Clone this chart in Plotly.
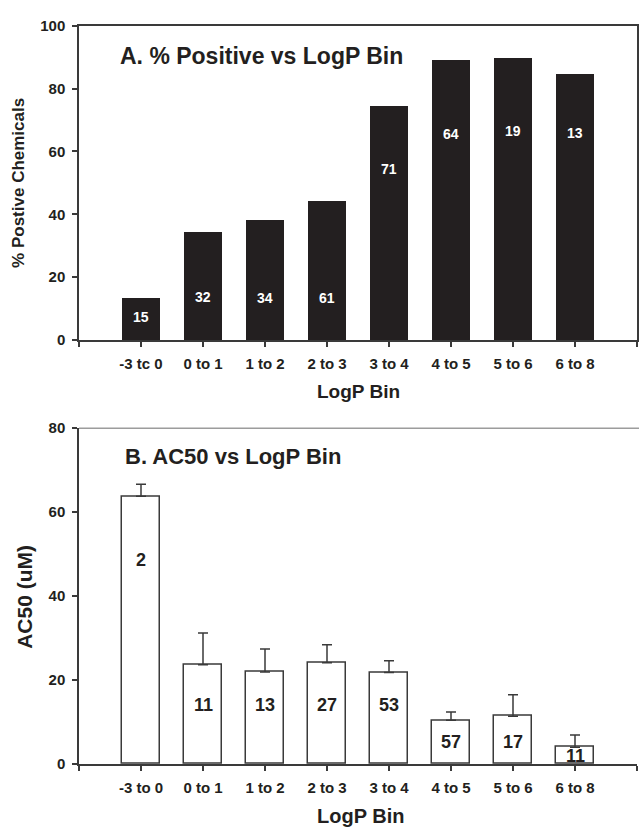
import plotly.graph_objects as go

# ---- data ----
bins_a = ["-3 tc 0", "0 to 1", "1 to 2", "2 to 3", "3 to 4", "4 to 5", "5 to 6", "6 to 8"]
bins_b = ["-3 to 0", "0 to 1", "1 to 2", "2 to 3", "3 to 4", "4 to 5", "5 to 6", "6 to 8"]
pct_positive = [13.4, 34.5, 38.3, 44.4, 74.7, 89.2, 89.7, 84.7]
counts_a = ["15", "32", "34", "61", "71", "64", "19", "13"]
ac50_mean = [63.7, 23.6, 21.9, 24.1, 21.8, 10.4, 11.4, 4.0]
ac50_sem = [2.9, 7.6, 5.5, 4.3, 2.8, 2.0, 5.1, 2.9]
counts_b = ["2", "11", "13", "27", "53", "57", "17", "11"]

# ---- layout helpers (label placement) ----
label_y_a = [7.2, 13.7, 13.4, 13.4, 54.5, 65.4, 66.4, 66.0]
label_y_b = [48.5, 14.1, 14.1, 14.1, 14.1, 5.3, 5.3, 1.8]

W, H = 639, 837
def px(x): return x / W
def py(y): return 1 - y / H

FONT = "Liberation Sans, Arial, sans-serif"
TXT = "#231f20"
LINE = "#3a3a3a"
xs = list(range(len(bins_a)))

fig = go.Figure()
fig.add_trace(go.Bar(x=xs, y=pct_positive, width=0.61, marker=dict(color="#231f20", line=dict(width=0)),
                     xaxis="x", yaxis="y", showlegend=False))
fig.add_trace(go.Bar(x=xs, y=ac50_mean, width=0.61,
                     marker=dict(color="white", line=dict(color=LINE, width=1.5)),
                     error_y=dict(type="data", symmetric=False, array=ac50_sem,
                                  arrayminus=[0] * len(ac50_sem), color=LINE, thickness=1.5, width=5),
                     xaxis="x2", yaxis="y2", showlegend=False))

tickfont = dict(family=FONT, size=15, color=TXT, weight="bold")
common_x = dict(type="linear", range=[-1, 8], tickvals=list(range(-1, 9)),
                showline=True, linecolor=LINE, linewidth=1.5, ticks="outside", ticklen=5,
                tickcolor=LINE, tickwidth=1.5, tickfont=tickfont, showgrid=False, zeroline=False,
                domain=[px(79), px(637)], ticklabelstandoff=4)
common_y = dict(showline=True, linecolor=LINE, linewidth=1.5, ticks="outside", ticklen=5,
                tickcolor=LINE, tickwidth=1.5, tickfont=tickfont, showgrid=False, zeroline=False,
                ticklabelstandoff=4)

fig.update_layout(
    width=W, height=H, margin=dict(l=0, r=0, t=0, b=0),
    paper_bgcolor="white", plot_bgcolor="white", bargap=0,
    xaxis=dict(**common_x, ticktext=[""] + bins_a + [""], anchor="y", mirror=True),
    yaxis=dict(**common_y, range=[0, 100], tickvals=[0, 20, 40, 60, 80, 100],
               domain=[py(338), py(17)], anchor="x", mirror=True),
    xaxis2=dict(**common_x, ticktext=[""] + bins_b + [""], anchor="y2"),
    yaxis2=dict(**common_y, range=[0, 80], tickvals=[0, 20, 40, 60, 80],
                domain=[py(770.7), py(427.5)], anchor="x2"),
)

fig.add_shape(type="line", xref="paper", yref="y2", x0=px(79), x1=1, y0=80, y1=80,
              line=dict(color=LINE, width=1.5))

ann = []
for i, (c, ly) in enumerate(zip(counts_a, label_y_a)):
    ann.append(dict(x=i, y=ly, xref="x", yref="y", text=c, showarrow=False,
                    font=dict(family=FONT, size=14, color="white", weight="bold")))
for i, (c, ly) in enumerate(zip(counts_b, label_y_b)):
    ann.append(dict(x=i, y=ly, xref="x2", yref="y2", text=c, showarrow=False,
                    font=dict(family=FONT, size=18, color=TXT, weight="bold")))

big = lambda s: dict(family=FONT, size=s, color=TXT, weight="bold")
ann += [
    dict(x=px(118), y=py(48), xref="paper", yref="paper", text="A. % Positive vs LogP Bin",
         showarrow=False, xanchor="left", yanchor="middle", font=big(23)),
    dict(x=px(123), y=py(457), xref="paper", yref="paper", text="B. AC50 vs LogP Bin",
         showarrow=False, xanchor="left", yanchor="middle", font=big(22)),
    dict(x=px(19), y=py(177.5), xref="paper", yref="paper", text="% Postive Chemicals",
         showarrow=False, textangle=-90, xanchor="center", yanchor="middle", font=big(17)),
    dict(x=px(358.5), y=py(390), xref="paper", yref="paper", text="LogP Bin",
         showarrow=False, xanchor="center", yanchor="middle", font=big(19)),
    dict(x=px(25), y=py(600), xref="paper", yref="paper", text="AC50 (uM)",
         showarrow=False, textangle=-90, xanchor="center", yanchor="middle", font=big(21)),
    dict(x=px(360.5), y=py(824), xref="paper", yref="paper", text="LogP Bin",
         showarrow=False, xanchor="center", yanchor="middle", font=big(20)),
]
fig.update_layout(annotations=ann)

fig.write_html("out.html")
